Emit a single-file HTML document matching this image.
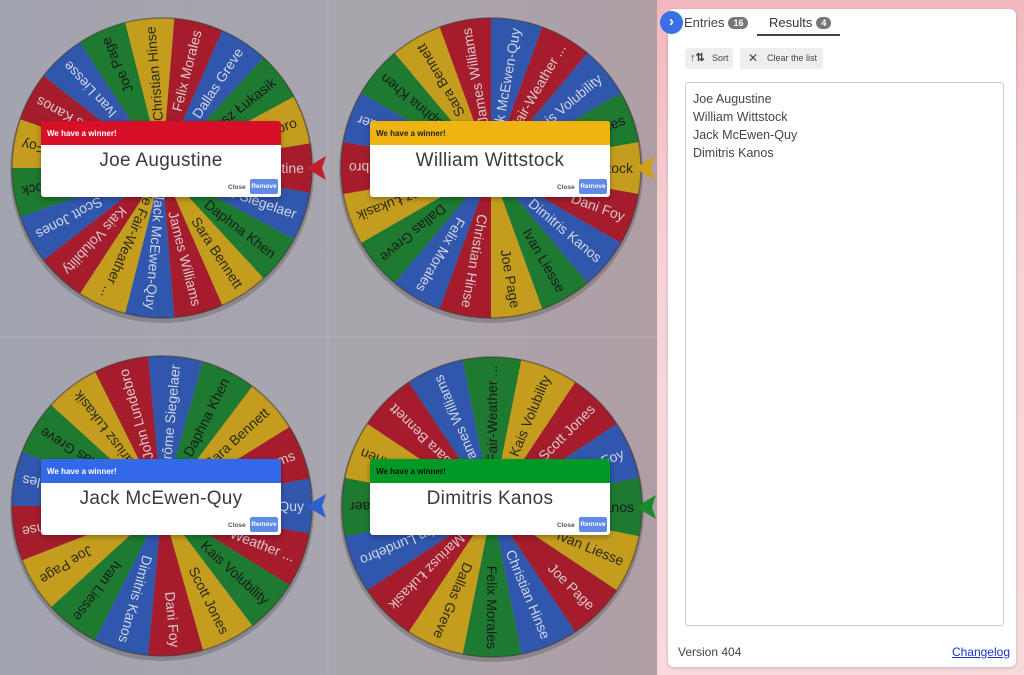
<!DOCTYPE html>
<html><head><meta charset="utf-8">
<style>
*{margin:0;padding:0;box-sizing:border-box}
body{width:1024px;height:675px;overflow:hidden;position:relative;font-family:"Liberation Sans",sans-serif;background:#a6a6ae}
#left{position:absolute;left:0;top:0;width:657px;height:675px;background:linear-gradient(90deg,#a2a4b0 0%,#a9a5ad 60%,#b09ea6 100%)}
.popup{position:absolute;width:240px;height:76px;background:#fff;border-radius:3px;overflow:hidden;box-shadow:0 2px 6px rgba(0,0,0,.3)}
.popup .hd{height:24px;font-size:8px;font-weight:bold;padding:8px 0 0 6px;color:#fff}
.popup .nm{text-align:center;font-size:19px;color:#3a3a3a;margin-top:5px;letter-spacing:.3px}
.popup .cl{position:absolute;left:187px;top:63px;font-size:6.5px;font-weight:bold;color:#555}
.popup .rm{position:absolute;left:209px;top:58px;width:28px;height:15px;background:#5f8ae6;border-radius:2px;color:#fff;font-size:6.5px;font-weight:bold;text-align:center;line-height:15px}
#right{position:absolute;left:657px;top:0;width:367px;height:675px;background:linear-gradient(180deg,#f2b8be,#f7d3d6 40%,#f8dadc)}
#card{position:absolute;left:11px;top:9px;width:348px;height:658px;background:#fff;border-radius:6px;box-shadow:0 1px 3px rgba(0,0,0,.2)}
.tab{position:absolute;top:15px;font-size:13px;color:#444}
.badge{display:inline-block;background:#777;color:#fff;font-size:9px;font-weight:bold;border-radius:7px;padding:1px 5px;margin-left:4px;vertical-align:1px}
.btn{position:absolute;top:39px;height:21px;background:#eee;border-radius:3px;font-size:9px;color:#444;line-height:21px}
#ta{position:absolute;left:17px;top:73px;width:319px;height:544px;border:1px solid #ccc;border-radius:3px;padding:7px;font-size:12.5px;line-height:18px;color:#444}
</style></head><body>
<div id="left">
<svg width="657" height="675" id="sv" style="position:absolute;left:0;top:0"></svg>
</div>
<div class="popup" style="left:41px;top:121px"><div class="hd" style="background:#d81027">We have a winner!</div><div class="nm">Joe Augustine</div><div class="cl">Close</div><div class="rm">Remove</div></div>
<div class="popup" style="left:370px;top:121px"><div class="hd" style="background:#f0b412;color:#222">We have a winner!</div><div class="nm">William Wittstock</div><div class="cl">Close</div><div class="rm">Remove</div></div>
<div class="popup" style="left:41px;top:459px"><div class="hd" style="background:#3369e8">We have a winner!</div><div class="nm">Jack McEwen-Quy</div><div class="cl">Close</div><div class="rm">Remove</div></div>
<div class="popup" style="left:370px;top:459px"><div class="hd" style="background:#009925;color:#111">We have a winner!</div><div class="nm">Dimitris Kanos</div><div class="cl">Close</div><div class="rm">Remove</div></div>
<div id="right">
<div id="card">
<div class="tab" style="left:16px;top:6px">Entries<span class="badge">16</span></div>
<div class="tab" style="left:101px;top:6px;color:#333">Results<span class="badge">4</span></div>
<div style="position:absolute;left:89px;top:25px;width:83px;height:2px;background:#444"></div>
<div class="btn" style="left:17px;width:48px"><span style="position:absolute;left:5px;font-size:11px;font-weight:bold">↑⇅</span><span style="position:absolute;left:27px">Sort</span></div>
<div class="btn" style="left:72px;width:83px"><span style="position:absolute;left:8px;font-size:12px">✕</span><span style="position:absolute;left:27px">Clear the list</span></div>
<div id="ta">Joe Augustine<br>William Wittstock<br>Jack McEwen-Quy<br>Dimitris Kanos</div>
<div style="position:absolute;left:10px;top:636px;font-size:12px;color:#444">Version 404</div>
<div style="position:absolute;right:6px;top:636px;font-size:12px;color:#1a33cc;text-decoration:underline">Changelog</div>
</div>
<div style="position:absolute;left:3px;top:11px;width:23px;height:23px;border-radius:50%;background:#3b6fe6;color:#fff;font-size:15px;text-align:center;line-height:22px;font-weight:bold">›</div>
</div>
<script>
var C={R:"#a51d2d",B:"#3157ad",G:"#1d7a30",Y:"#c59d1e"};
var T={R:"#d9c9cc",B:"#d0d5e6",G:"#1a1a1a",Y:"#2a2a1a"};
var wheels=[
{cx:162,cy:168,pc:"#c0202d",n:["Joe Augustine","Jérôme Siegelaer","Daphna Khen","Sara Bennett","James Williams","Jack McEwen-Quy","The Fair-Weather ...","Kais Volubility","Scott Jones","William Wittstock","Dani Foy","Dimitris Kanos","Ivan Liesse","Joe Page","Christian Hinse","Felix Morales","Dallas Greve","Mariusz Łukasik","John Lundebro"],c:"RBGYRBYRBGYRBGYRBGY"},
{cx:491,cy:168,pc:"#d0a015",n:["William Wittstock","Dani Foy","Dimitris Kanos","Ivan Liesse","Joe Page","Christian Hinse","Felix Morales","Dallas Greve","Mariusz Łukasik","John Lundebro","Jérôme Siegelaer","Daphna Khen","Sara Bennett","James Williams","Jack McEwen-Quy","The Fair-Weather ...","Kais Volubility","Scott Jones"],c:"YRBGYRBGYRBGYRBRBG"},
{cx:162,cy:506,pc:"#2f5fcf",n:["Jack McEwen-Quy","The Fair-Weather ...","Kais Volubility","Scott Jones","Dani Foy","Dimitris Kanos","Ivan Liesse","Joe Page","Christian Hinse","Felix Morales","Dallas Greve","Mariusz Łukasik","John Lundebro","Jérôme Siegelaer","Daphna Khen","Sara Bennett","James Williams"],c:"BRGYRBGYRBGYRBGYR"},
{cx:492,cy:507,pc:"#178a2a",n:["Dimitris Kanos","Ivan Liesse","Joe Page","Christian Hinse","Felix Morales","Dallas Greve","Mariusz Łukasik","John Lundebro","Jérôme Siegelaer","Daphna Khen","Sara Bennett","James Williams","The Fair-Weather ...","Kais Volubility","Scott Jones","Dani Foy"],c:"GYRBGYRBGYRBGYRB"}];
var s="",r=150;
wheels.forEach(function(w){
 var n=w.n.length,a=2*Math.PI/n;
 s+='<circle cx="'+w.cx+'" cy="'+(w.cy+3)+'" r="'+(r+2)+'" fill="rgba(0,0,0,0.18)"/>';
 for(var i=0;i<n;i++){
  var a0=i*a-a/2,a1=i*a+a/2;
  var x0=w.cx+r*Math.cos(a0),y0=w.cy+r*Math.sin(a0),x1=w.cx+r*Math.cos(a1),y1=w.cy+r*Math.sin(a1);
  s+='<path d="M'+w.cx+' '+w.cy+'L'+x0.toFixed(1)+' '+y0.toFixed(1)+'A'+r+' '+r+' 0 0 1 '+x1.toFixed(1)+' '+y1.toFixed(1)+'Z" fill="'+C[w.c[i]]+'"/>';
  var deg=i*360/n;
  s+='<text transform="translate('+w.cx+','+w.cy+') rotate('+deg.toFixed(2)+')" x="'+(r-8)+'" y="5" text-anchor="end" font-size="14" font-family="Liberation Sans, sans-serif" fill="'+T[w.c[i]]+'">'+w.n[i]+'</text>';
 }
 s+='<circle cx="'+w.cx+'" cy="'+w.cy+'" r="'+r+'" fill="none" stroke="rgba(60,50,40,0.5)" stroke-width="1.5"/>';
 var tx=w.cx+r-6;
 s+='<polygon points="'+tx+','+w.cy+' '+(tx+20)+','+(w.cy-12)+' '+(tx+16)+','+w.cy+' '+(tx+20)+','+(w.cy+12)+'" fill="'+w.pc+'"/>';
});
s+='<line x1="328" y1="0" x2="328" y2="675" stroke="rgba(255,255,255,0.15)"/><line x1="0" y1="337" x2="657" y2="337" stroke="rgba(255,255,255,0.15)"/>';
document.getElementById("sv").innerHTML=s;
</script>
</body></html>
